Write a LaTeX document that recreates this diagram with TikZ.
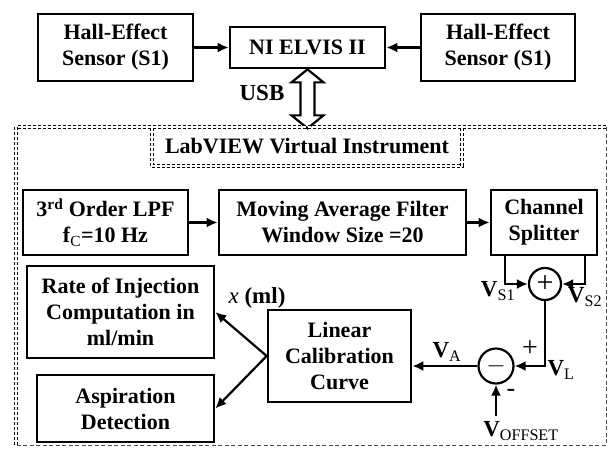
\documentclass[tikz,border=0pt]{standalone}
\usepackage{fontspec}
\setmainfont{Liberation Serif}
\usetikzlibrary{arrows.meta,positioning}

\tikzset{
  blk/.style={draw, line width=2.7pt, align=center, font=\bfseries\fontsize{22}{26}\selectfont, inner sep=2pt},
  arr/.style={line width=2.2pt, -{Latex[length=11pt,width=10pt]}},
  sumnode/.style={draw, circle, line width=2.2pt, minimum size=32pt, inner sep=0pt, font=\fontsize{30}{30}\selectfont},
  sig/.style={font=\bfseries\fontsize{23}{23}\selectfont, inner sep=0pt},
  dbldash/.style={double, double distance=1.4pt, line width=0.9pt, dash pattern=on 3pt off 2pt},
  thindash/.style={draw=black!70, line width=0.9pt, dash pattern=on 4pt off 2.5pt}
}

\begin{document}
\begin{tikzpicture}[x=1pt, y=-1pt]
\useasboundingbox (0,0) rectangle (608,451);

% Hardware
\node[blk, minimum width=155pt, minimum height=67pt] (hallL) at (115.5,47.5) {Hall-Effect\\Sensor (S1)};
\node[blk, minimum width=155pt, minimum height=41pt] (elvis) at (307.5,47.5) {NI ELVIS II};
\node[blk, minimum width=154pt, minimum height=67pt] (hallR) at (498,47.5) {Hall-Effect\\Sensor (S1)};
\draw[arr] (hallL) -- (elvis);
\draw[arr] (hallR) -- (elvis);

% USB link
\draw[line width=2.2pt, fill=white] (elvis.south) -- ++(16,13) -- ++(-9,0) -- ++(0,33) -- ++(9,0)
  -- ++(-16,13) -- ++(-16,-13) -- ++(9,0) -- ++(0,-33) -- ++(-9,0) -- cycle;
\node[sig] (usb) at (262,93) {USB};

% LabVIEW frame
\coordinate (ftl) at (16,127);
\coordinate (fbr) at (606,445);
\draw[dbldash] (fbr -| ftl) -- (ftl) -- (ftl -| fbr);
\draw[thindash] (ftl -| fbr) -- (fbr) -- (fbr -| ftl);
\node[draw, dbldash, minimum width=310pt, minimum height=39pt, font=\bfseries\fontsize{22}{26}\selectfont] (lv) at (307,146.5) {LabVIEW Virtual Instrument};

% Processing chain
\node[blk, minimum width=165pt, minimum height=65pt] (lpf) at (105.5,222.5) {3\textsuperscript{rd} Order LPF\\f\textsubscript{\mdseries C}=10 Hz};
\node[blk, minimum width=247pt, minimum height=65pt] (mavg) at (342.5,222.5) {Moving Average Filter\\Window Size =20};
\node[blk, minimum width=106pt, minimum height=65pt] (split) at (544,222.5) {Channel\\Splitter};
\draw[arr] (lpf) -- (mavg);
\draw[arr] (mavg) -- (split);

% Summing junctions
\node[sumnode] (plus) at (545,284) {+};
\node[sumnode, minimum size=35pt] (minus) at (496,366) {$-$};
\draw[arr] ([xshift=-39pt]split.south) |- (plus.west);
\draw[arr] ([xshift=41pt]split.south) |- (plus.east);
\node[sig] (vs1) at (498,291) {V\textsubscript{\mdseries S1}};
\node[sig] (vs2) at (585,297) {V\textsubscript{\mdseries S2}};
\draw[arr] (plus.south) |- (minus.east);
\node[sig, font=\fontsize{28}{28}\selectfont] (pl) at (530,349) {+};
\node[sig] (vl) at (561,370) {V\textsubscript{\mdseries L}};
\coordinate (voff) at (496,416);
\draw[arr] (voff) -- (minus.south);
\node[sig, font=\fontsize{26}{26}\selectfont] (mi) at (511,393) {-};
\node[sig] (voffl) at (521,431) {V\textsubscript{\mdseries OFFSET}};

% Calibration and outputs
\node[blk, minimum width=143pt, minimum height=92pt] (lcc) at (339.5,356) {Linear\\Calibration\\Curve};
\draw[arr] (minus.west) -- (minus.west -| lcc.east);
\node[sig] (va) at (447,352) {V\textsubscript{\mdseries A}};
\node[blk, minimum width=187pt, minimum height=92pt] (rate) at (120.5,312) {Rate of Injection\\Computation in\\ml/min};
\node[blk, minimum width=177pt, minimum height=67pt] (asp) at (125.5,408.5) {Aspiration\\Detection};
\draw[arr] (lcc.west) -- (rate.east);
\draw[arr] (lcc.west) -- (asp.east);
\node[sig] (xml) at (257,298) {\textit{\mdseries x} (ml)};
\end{tikzpicture}
\end{document}
